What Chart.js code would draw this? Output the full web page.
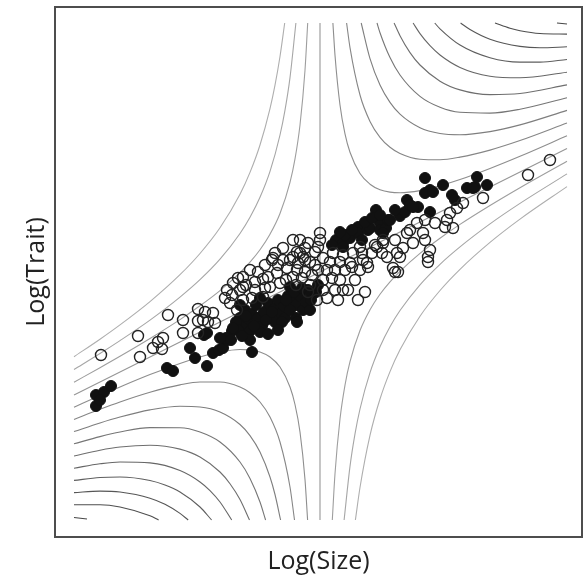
<!DOCTYPE html>
<html>
<head>
<meta charset="utf-8">
<script src="https://cdn.jsdelivr.net/npm/chart.js@4.4.1/dist/chart.umd.min.js"></script>
<style>
  html, body { margin: 0; padding: 0; background: #fff; }
  #wrap { width: 583px; height: 577px; }
</style>
</head>
<body>
<div id="wrap"><canvas id="chart" width="583" height="577"></canvas></div>
<script>
// Observed species, filled circles (log size, log trait)
const filledLogSize = [
  4.1, 4.1, 4.9, 5.6, 4.5, 11.2, 11.8, 13.5, 14.0, 15.2, 14.9, 15.8, 16.4, 16.8, 17.2, 17.7,
  19.7, 15.2, 17.1, 17.6, 18.5, 19.0, 19.3, 19.7, 20.1, 20.3, 20.7, 20.9, 21.3, 21.5, 21.9,
  22.3, 22.5, 22.9, 23.3, 23.5, 23.7, 24.1, 24.5, 24.8, 25.1, 25.5, 24.1, 24.2, 25.7, 26.1,
  18.8, 19.5, 18.1, 18.5, 20.5, 22.0, 23.0, 20.5, 25.3, 28.1, 28.8, 28.8, 29.5, 30.3, 30.3,
  31.3, 31.5, 32.1, 32.5, 32.5, 33.1, 33.3, 34.5, 35.0, 35.2, 35.5, 36.3, 37.5, 32.8, 37.0,
  37.5, 37.0, 37.8, 38.8, 39.7, 40.0, 41.2, 42.0, 42.2, 43.2, 41.8, 35.8, 33.5, 29.0, 30.7, 27.7,
  18.3, 19.1, 19.9, 21.1, 21.7, 22.7, 23.5, 23.9, 24.7, 23.1, 22.3, 21.3, 19.5, 18.7, 25.6, 26.3,
  17.8, 16.5, 28.5, 29.7, 31.0, 31.7, 34.0, 32.5
];
const filledLogTrait = [
  14.2, 13.1, 14.5, 15.1, 13.7, 16.9, 16.6, 18.9, 17.9, 17.1, 20.2, 18.4, 18.7, 18.9, 19.7, 20.6,
  18.5, 20.4, 19.9, 19.7, 21.9, 22.7, 21.5, 22.3, 23.2, 21.9, 21.1, 22.5, 23.4, 21.9, 22.8,
  23.7, 22.3, 23.1, 24.1, 25.0, 23.7, 23.2, 24.1, 22.7, 23.5, 22.7, 21.9, 21.5, 24.2, 24.5,
  20.9, 20.6, 21.5, 23.2, 23.9, 21.5, 21.9, 20.5, 24.7, 29.7, 29.4, 29.0, 29.9, 31.0, 30.4,
  30.7, 30.9, 32.7, 31.4, 30.7, 30.9, 31.7, 32.1, 32.5, 33.7, 33.2, 33.0, 32.5, 30.4, 35.9,
  34.7, 34.4, 34.5, 35.2, 34.2, 33.7, 34.9, 35.0, 36.0, 35.2, 34.9, 33.0, 31.7, 30.2, 29.7, 29.2,
  20.7, 22.1, 21.1, 21.7, 22.5, 21.5, 22.7, 24.5, 24.9, 23.7, 20.7, 20.3, 19.7, 20.1, 23.7, 25.2,
  20.9, 19.9, 30.5, 30.7, 31.5, 31.9, 32.7, 32.2
];

// Observed species, open circles
const openLogSize = [
  4.6, 8.3, 8.5, 9.8, 10.3, 10.8, 10.7, 11.3, 12.8, 12.8, 14.3, 14.3, 14.3, 15.3, 15.8, 15.0,
  14.8, 16.0, 17.0, 17.7, 17.5, 17.8, 18.8, 18.8, 20.0, 20.3, 20.8, 21.3, 22.2, 21.7, 22.0,
  22.8, 23.8, 24.5, 25.0, 22.8, 23.2, 22.5, 21.5, 20.8, 19.7, 18.8, 18.2, 17.2, 18.5, 19.1,
  26.5, 26.5, 25.0, 24.2, 26.0, 24.8, 25.5, 26.8, 27.8, 28.8, 29.8, 30.7, 31.7, 32.7, 32.8,
  32.0, 31.2, 30.5, 29.7, 28.5, 28.8, 29.3, 30.3, 31.0, 26.8, 27.2, 26.2, 25.5, 24.2, 26.8,
  27.7, 25.7, 24.7, 28.0, 27.2, 26.0, 23.8, 21.8, 23.8, 34.0, 34.3, 37.3, 30.8, 31.3, 42.8,
  40.8, 40.2, 39.5, 39.2, 39.0, 39.8, 38.0, 37.0, 36.2, 35.5, 35.2, 36.8, 37.0, 35.8, 34.8,
  34.2, 34.5, 33.2, 37.3, 37.5, 34.0, 32.8, 32.2, 30.5, 29.5, 33.8, 47.3, 49.5,
  21.0, 22.3, 23.5, 24.3, 23.1, 24.1, 25.0, 26.3, 25.3, 24.5, 25.3, 26.3, 27.5, 28.5, 29.0,
  30.0, 28.0, 28.3, 20.0, 21.0, 19.5, 18.3
];
const openLogTrait = [
  18.2, 20.1, 18.0, 18.9, 19.5, 19.9, 18.8, 22.2, 21.7, 20.4, 22.8, 21.6, 20.4, 21.5, 22.4, 22.5,
  21.7, 21.4, 23.9, 24.2, 23.4, 25.4, 26.0, 25.0, 24.7, 26.5, 25.8, 26.0, 26.4, 27.7, 28.4,
  28.9, 29.7, 28.4, 27.7, 27.7, 26.9, 25.4, 25.0, 24.0, 23.9, 23.7, 22.7, 24.7, 24.7, 25.2,
  30.4, 29.7, 28.9, 28.5, 28.5, 28.0, 27.5, 27.9, 28.4, 28.2, 28.4, 28.4, 28.4, 28.4, 29.4,
  29.2, 27.4, 26.7, 27.0, 25.7, 24.7, 24.7, 23.7, 24.5, 24.7, 23.9, 23.7, 25.2, 26.7, 25.7,
  25.9, 26.2, 25.9, 26.7, 26.7, 27.2, 26.0, 27.9, 28.0, 26.5, 26.5, 27.5, 27.7, 27.0, 33.9,
  33.4, 32.9, 32.4, 31.7, 31.0, 30.9, 31.4, 31.7, 31.4, 30.7, 30.4, 30.4, 29.7, 29.4, 28.9,
  28.4, 28.0, 28.0, 28.0, 28.7, 29.7, 29.7, 29.0, 29.0, 27.4, 26.9, 36.2, 37.7,
  27.2, 27.2, 27.7, 27.4, 25.7, 25.2, 26.5, 26.7, 24.5, 29.7, 29.4, 29.0, 27.5, 27.5, 26.7,
  25.7, 24.7, 23.7, 25.5, 24.9, 26.7, 25.9
];

// Fitness contours, traced as [size, trait, size, trait, ...]
// upper right, levels 1..10
const contoursUpperRight = [
  [27.79,51.4, 28,48.18, 28.5,43.2, 29,40.31, 29.5,38.47, 30.5,36.35, 31.5,35.28, 32.5,34.73, 33.5,34.49, 34.5,34.43, 36.5,34.64, 38.5,35.12, 40.5,35.74, 43.5,36.85, 46.5,38.07, 51.2,40.12],
  [29.16,51.4, 29.5,48.94, 30.5,44.2, 31.5,41.56, 32.5,39.97, 33.5,38.97, 34.5,38.35, 36.5,37.78, 38.5,37.73, 40.5,37.99, 43.5,38.69, 46.5,39.64, 51.2,41.39],
  [30.62,51.4, 31.5,47.84, 32.5,45.2, 33.5,43.46, 34.5,42.28, 36.5,40.92, 38.5,40.35, 40.5,40.23, 43.5,40.54, 46.5,41.21, 51.2,42.66],
  [32.2,51.4, 32.5,50.43, 33.5,47.94, 34.5,46.2, 36.5,44.06, 38.5,42.97, 40.5,42.47, 43.5,42.39, 46.5,42.78, 51.2,43.93],
  [33.91,51.4, 34.5,50.13, 35.5,48.44, 36.5,47.2, 38.5,45.58, 40.5,44.71, 43.5,44.24, 46.5,44.35, 51.2,45.21],
  [35.81,51.4, 36.5,50.34, 37.5,49.13, 38.5,48.2, 40.5,46.96, 43.5,46.08, 46.5,45.92, 51.2,46.48],
  [37.97,51.4, 38.5,50.82, 40.5,49.2, 43.5,47.93, 46.5,47.49, 48.5,47.49, 51.2,47.75],
  [40.56,51.4, 41.5,50.75, 43.5,49.78, 46.5,49.06, 48.5,48.92, 51.2,49.02],
  [44,51.4, 45.5,50.87, 46.5,50.63, 48.5,50.35, 51.2,50.29],
  [50.2,51.4, 51.2,51.3]
];
// lower left, levels 1..10
const contoursLowerLeft = [
  [1.9,12.98, 4.5,14.14, 6.5,15, 9.5,16.24, 12.5,17.36, 14.5,18, 16.5,18.5, 18.5,18.75, 19.5,18.71, 20.5,18.5, 21.5,18, 22.5,17, 23.5,15, 24,13.25, 24.5,10.5, 25,5.75, 25.26,1.7],
  [1.9,11.76, 4.5,12.77, 6.5,13.5, 9.5,14.47, 12.5,15.21, 14.5,15.5, 16.5,15.5, 18.5,15, 19.5,14.43, 20.5,13.5, 21.5,12, 22.5,9.5, 23.5,5, 23.95,1.7],
  [1.9,10.54, 4.5,11.41, 6.5,12, 9.5,12.71, 12.5,13.07, 14.5,13, 16.5,12.5, 18.5,11.25, 19.5,10.14, 20.5,8.5, 21.5,6, 22,4.25, 22.56,1.7],
  [1.9,9.32, 4.5,10.04, 6.5,10.5, 9.5,10.94, 12.5,10.93, 14.5,10.5, 16.5,9.5, 18.5,7.5, 19.5,5.86, 20.5,3.5, 21.06,1.7],
  [1.9,8.1, 4.5,8.68, 6.5,9, 9.5,9.18, 12.5,8.79, 14.5,8, 16.5,6.5, 17.5,5.33, 18.5,3.75, 19.45,1.7],
  [1.9,6.88, 4.5,7.32, 6.5,7.5, 9.5,7.41, 12.5,6.64, 14.5,5.5, 15.5,4.64, 16.5,3.5, 17.67,1.7],
  [1.9,5.66, 4.5,5.95, 6.5,6, 9.5,5.65, 11,5.2, 12.5,4.5, 14.5,3, 15.66,1.7],
  [1.9,4.44, 4.5,4.59, 6.5,4.5, 9.5,3.88, 11,3.27, 12.5,2.36, 13.32,1.7],
  [1.9,3.22, 4.5,3.23, 6.5,3, 9.5,2.12, 10.36,1.7],
  [1.9,1.95, 3.2,1.8]
];
// upper left, levels -1..-3
const contoursUpperLeft = [
  [1.9,15.48, 4.5,16.93, 6.5,18.07, 9.5,19.85, 12.5,21.74, 14.5,23.12, 16.5,24.64, 18.5,26.43, 19.5,27.49, 20.5,28.73, 21.5,30.28, 22.5,32.35, 23.5,35.47, 24,37.81, 24.5,41.2, 25,46.68, 25.27,51.4],
  [1.9,16.75, 4.5,18.35, 6.5,19.64, 9.5,21.69, 12.5,23.99, 14.5,25.73, 16.5,27.78, 18.5,30.35, 19.5,31.97, 20.5,33.97, 21.5,36.56, 22.5,40.2, 23,42.69, 23.5,45.94, 24.09,51.4],
  [1.9,18.03, 4.5,19.78, 6.5,21.21, 9.5,23.54, 12.5,26.23, 14.5,28.35, 16.5,30.92, 18.5,34.28, 19.5,36.46, 20.5,39.2, 21.5,42.84, 22,45.18, 22.5,48.05, 22.97,51.4]
];
// lower right, levels -1..-3
const contoursLowerRight = [
  [27.73,1.7, 28,6.32, 28.5,11.8, 29,15.19, 29.5,17.53, 30.5,20.65, 31.5,22.72, 32.5,24.27, 33.5,25.51, 34.5,26.57, 36.5,28.36, 38.5,29.88, 40.5,31.26, 43.5,33.15, 46.5,34.93, 51.2,37.58],
  [28.91,1.7, 29.5,7.06, 30,10.31, 30.5,12.8, 31.5,16.44, 32.5,19.03, 33.5,21.03, 34.5,22.65, 36.5,25.22, 38.5,27.27, 40.5,29.01, 43.5,31.31, 46.5,33.36, 51.2,36.31],
  [30.04,1.7, 30.5,4.95, 31.5,10.16, 32.5,13.8, 33.5,16.54, 34.5,18.72, 36.5,22.08, 38.5,24.65, 40.5,26.77, 43.5,29.46, 46.5,31.79, 51.2,35.04]
];
// level 0: the two asymptotes
const contoursZero = [
  [1.9,14.2, 51.2,38.85],
  [26.5,1.7, 26.5,51.4]
];

function toPoints(flat) {
  const pts = [];
  for (let i = 0; i < flat.length; i += 2) {
    pts.push({ x: flat[i], y: flat[i + 1] });
  }
  return pts;
}

function pairUp(xs, ys) {
  return xs.map((x, i) => ({ x: x, y: ys[i] }));
}

// darker grey for higher fitness levels
function levelColor(level) {
  const g = Math.round(150 - 8 * level);
  return `rgb(${g}, ${g}, ${g})`;
}

function contourDataset(flat, level, curved) {
  return {
    type: "line",
    data: toPoints(flat),
    borderColor: levelColor(level),
    borderWidth: 1.1,
    pointRadius: 0,
    fill: false,
    tension: 0,
    cubicInterpolationMode: curved ? "monotone" : "default",
    order: 3,
  };
}

const datasets = [];
contoursUpperRight.forEach((c, i) => datasets.push(contourDataset(c, i + 1, true)));
contoursLowerLeft.forEach((c, i) => datasets.push(contourDataset(c, i + 1, true)));
contoursUpperLeft.forEach((c, i) => datasets.push(contourDataset(c, -(i + 1), true)));
contoursLowerRight.forEach((c, i) => datasets.push(contourDataset(c, -(i + 1), true)));
contoursZero.forEach((c) => datasets.push(contourDataset(c, 0, false)));

datasets.push({
  type: "scatter",
  label: "filled",
  data: pairUp(filledLogSize, filledLogTrait),
  backgroundColor: "#111",
  borderColor: "#111",
  borderWidth: 1,
  pointRadius: 5.5,
  order: 1,
});
datasets.push({
  type: "scatter",
  label: "open",
  data: pairUp(openLogSize, openLogTrait),
  backgroundColor: "rgba(255,255,255,0)",
  borderColor: "#222",
  borderWidth: 1.4,
  pointRadius: 5.5,
  order: 0,
});

// box around the plot area
const frame = {
  id: "frame",
  afterDraw(chart) {
    const { ctx, chartArea: a } = chart;
    ctx.save();
    ctx.strokeStyle = "#4d4d4d";
    ctx.lineWidth = 2;
    ctx.strokeRect(a.left, a.top, a.right - a.left, a.bottom - a.top);
    ctx.restore();
  },
};

const titleFont = { family: "'Open Sans', 'Noto Sans', sans-serif", size: 25 };

new Chart(document.getElementById("chart"), {
  type: "scatter",
  data: { datasets: datasets },
  options: {
    responsive: false,
    animation: false,
    events: [],
    layout: {
      autoPadding: false,
      padding: { left: 18, top: 7, right: 1, bottom: 0 },
    },
    plugins: {
      legend: { display: false },
      tooltip: { enabled: false },
    },
    scales: {
      x: {
        type: "linear",
        min: 0,
        max: 52.7,
        ticks: { display: false },
        grid: { display: false, drawTicks: false },
        border: { display: false },
        title: {
          display: true,
          text: "Log(Size)",
          color: "#222",
          font: titleFont,
          padding: { top: 10, bottom: 0 },
        },
      },
      y: {
        type: "linear",
        min: 0,
        max: 53,
        ticks: { display: false },
        grid: { display: false, drawTicks: false },
        border: { display: false },
        title: {
          display: true,
          text: "Log(Trait)",
          color: "#222",
          font: titleFont,
          padding: { top: 4, bottom: 3 },
        },
      },
    },
  },
  plugins: [frame],
});
</script>
</body>
</html>
